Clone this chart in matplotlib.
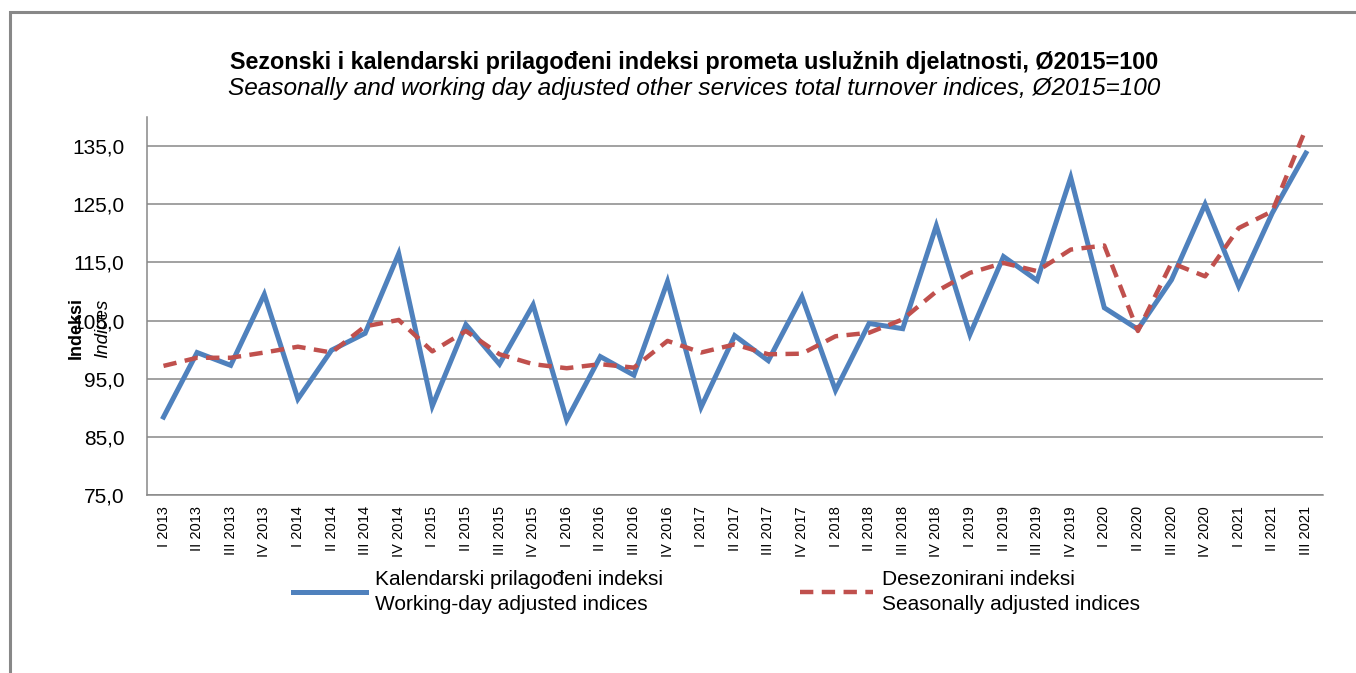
import numpy as np
import matplotlib.pyplot as plt
from matplotlib.patches import Rectangle

plt.rcParams['font.family'] = ['Liberation Sans', 'DejaVu Sans']

# quarters I 2013 .. III 2021
years = list(range(2013, 2022))
quarters = ['I', 'II', 'III', 'IV']
labels = [f'{q} {y}' for y in years for q in quarters][:35]

# Kalendarski prilagodjeni indeksi / Working-day adjusted
working_day = [88.4, 99.5, 97.3, 109.5, 91.5, 99.9, 102.8, 116.5,
               90.3, 104.3, 97.5, 107.7, 87.9, 98.8, 95.6, 111.7,
               90.1, 102.4, 98.1, 109.1, 93.0, 104.5, 103.6, 121.3,
               102.6, 116.0, 111.9, 129.6, 107.2, 103.5, 112.0, 125.0,
               110.9, 123.5, 133.8]

# Desezonirani indeksi / Seasonally adjusted
seasonal = [97.2, 98.6, 98.6, 99.5, 100.5, 99.5, 104.0, 105.1,
            99.7, 103.2, 99.2, 97.5, 96.8, 97.5, 96.9, 101.5,
            99.5, 100.9, 99.2, 99.3, 102.3, 102.9, 105.2, 110.0,
            113.2, 114.9, 113.5, 117.2, 117.9, 103.2, 114.9, 112.6,
            120.9, 123.8, 138.0]

yticks = [75, 85, 95, 105, 115, 125, 135]

fig = plt.figure(figsize=(13.56, 6.73), dpi=100)
ax = fig.add_axes([146.7 / 1356, 1 - 495 / 673, 1176 / 1356, 378 / 673])

x = np.arange(len(labels))
ax.plot(x, working_day, color='#4F81BD', lw=3.6, solid_joinstyle='miter',
        label='Kalendarski prilagođeni indeksi\nWorking-day adjusted indices', zorder=3)
ax.plot(x, seasonal, color='#C0504D', lw=3.2, dashes=(3.0, 1.9),
        label='Desezonirani indeksi\nSeasonally adjusted indices', zorder=4)

ax.set_xlim(-0.5, len(labels) - 0.5)
ax.set_ylim(75, 140)
ax.set_yticks(yticks)
ax.set_yticklabels([f'{v:.1f}'.replace('.', ',') for v in yticks], fontsize=15)
ax.set_xticks(x)
ax.set_xticklabels(labels, rotation=90, fontsize=10.5)
ax.tick_params(axis='y', length=0, pad=16)
ax.tick_params(axis='x', length=0, pad=8)
ax.grid(axis='y', color='#888888', lw=1.1)
ax.set_axisbelow(True)
for s in ['top', 'right']:
    ax.spines[s].set_visible(False)
for s in ['left', 'bottom']:
    ax.spines[s].set_color('#888888')
    ax.spines[s].set_linewidth(1.1)

# titles
fig.text(694 / 1356, 1 - 63 / 673, 'Sezonski i kalendarski prilagođeni indeksi prometa uslužnih djelatnosti, Ø2015=100',
         ha='center', va='center', fontsize=16.8, fontweight='bold')
fig.text(694 / 1356, 1 - 88 / 673, 'Seasonally and working day adjusted other services total turnover indices, Ø2015=100',
         ha='center', va='center', fontsize=17.6, style='italic')

# y axis label (two languages)
fig.text(76 / 1356, 1 - 328 / 673, 'Indeksi', rotation=90, ha='center', va='center',
         fontsize=13, fontweight='bold')
fig.text(103 / 1356, 1 - 328 / 673, 'Indices', rotation=90, ha='center', va='center',
         fontsize=13.5, style='italic')

leg = fig.legend(loc='center left', bbox_to_anchor=(274 / 1356, 1 - 592 / 673), ncol=2,
                 frameon=False, fontsize=15, handlelength=3.5, handletextpad=0.43,
                 columnspacing=6.6, labelspacing=0.2)
for t in leg.get_texts():
    t.set_linespacing(1.4)

# outer chart frame (cut off at right/bottom)
fig.patches.append(Rectangle((10 / 1356, -0.1), 2, 1 - 12 / 673 + 0.1, transform=fig.transFigure,
                             fill=False, edgecolor='#888888', lw=2.2))

fig.savefig('out.png', dpi=100)
